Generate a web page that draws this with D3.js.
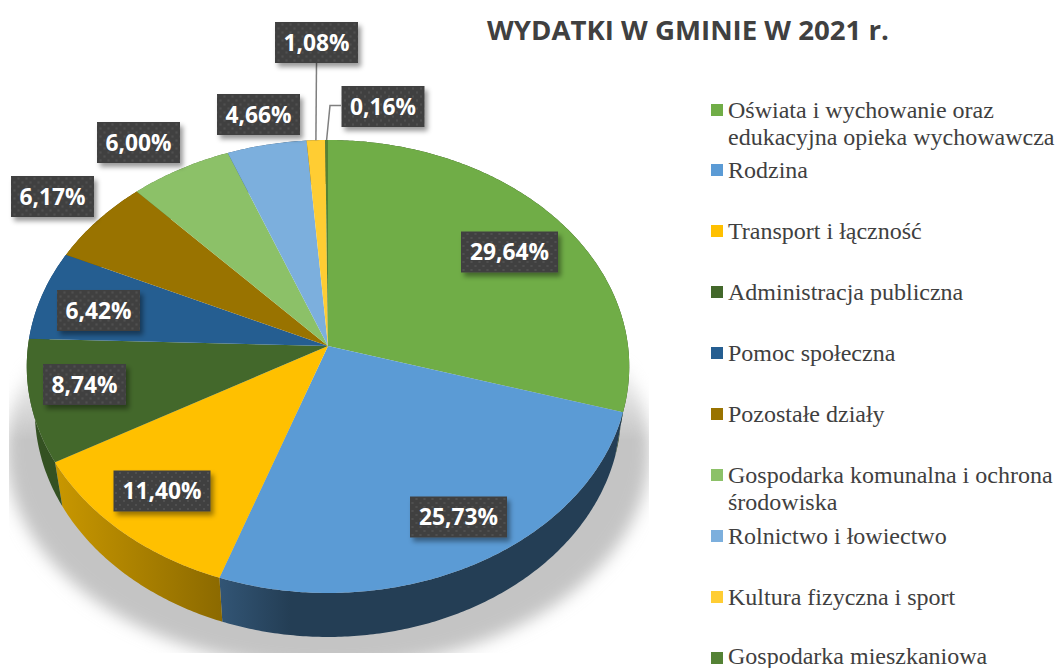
<!DOCTYPE html>
<html>
<head>
<meta charset="utf-8">
<script src="https://cdn.jsdelivr.net/npm/d3@7"></script>
<style>
  html, body { margin: 0; padding: 0; background: #fff; overflow: hidden; }
  svg { display: block; }
</style>
</head>
<body>
<div id="chart"></div>
<script>
const categories = [
  ["Oświata i wychowanie oraz", "edukacyjna opieka wychowawcza"],
  ["Rodzina"],
  ["Transport i łączność"],
  ["Administracja publiczna"],
  ["Pomoc społeczna"],
  ["Pozostałe działy"],
  ["Gospodarka komunalna i ochrona", "środowiska"],
  ["Rolnictwo i łowiectwo"],
  ["Kultura fizyczna i sport"],
  ["Gospodarka mieszkaniowa"]
];
const shares = [29.64, 25.73, 11.40, 8.74, 6.42, 6.17, 6.00, 4.66, 1.08, 0.16];
const colors = ["#70AD47", "#5B9BD5", "#FFC000", "#43682B", "#255E91", "#997300", "#8CC168", "#7CAFDD", "#FFCD33", "#548235"];

// label box centres, same order as shares
const labelCenters = [[509.5, 252], [458.5, 517], [162, 491], [84.5, 384.5], [98.5, 310.5], [52.5, 196.5], [138.5, 142.5], [258.5, 114.5], [316.5, 42.5], [383, 106.5]];
const legendY = [110, 170, 231, 292, 353, 414, 475, 536, 597, 656];

const w = 1055, h = 668;

// the pie is a circle seen in perspective, apex of the slices is not the ellipse centre
const cx = 328, cy = 346, k = 0.0905;
const rimTop = { a: 300, b: 224.6, dy: 0 };
const rimBottom = { a: 292, b: 224.6, dy: 44 };

function project(angle, r, rim) {
  const u = Math.sin(angle) * r, v = -Math.cos(angle) * r;
  const d = 1 - k * v;
  return [cx + rim.a * u / d, cy + rim.dy + rim.b * v / d];
}

function rimPoints(a0, a1, rim) {
  const n = Math.max(2, Math.ceil((a1 - a0) / 0.01));
  return d3.range(n + 1).map(i => project(a0 + (a1 - a0) * i / n, 1, rim));
}

const line = d3.line();

const svg = d3.select("#chart").append("svg")
  .attr("width", w)
  .attr("height", h)
  .style("font-family", "'Open Sans', sans-serif");

const defs = svg.append("defs");

defs.append("filter").attr("id", "blur")
  .attr("x", "-10%").attr("y", "-10%").attr("width", "120%").attr("height", "120%")
  .append("feGaussianBlur").attr("stdDeviation", 8);

const labelShadow = defs.append("filter").attr("id", "labelShadow")
  .attr("x", "-20%").attr("y", "-30%").attr("width", "150%").attr("height", "170%");
labelShadow.append("feDropShadow")
  .attr("dx", 3).attr("dy", 4).attr("stdDeviation", 2.5)
  .attr("flood-color", "#000").attr("flood-opacity", 0.4);

const dots = defs.append("pattern").attr("id", "dots")
  .attr("patternUnits", "userSpaceOnUse")
  .attr("width", 8).attr("height", 8);
dots.append("rect").attr("width", 8).attr("height", 8).attr("fill", "#404040");
[[2, 2], [6, 6]].forEach(p => {
  dots.append("circle").attr("cx", p[0]).attr("cy", p[1]).attr("r", 1).attr("fill", "#555555");
});

// shadow under the pie, fades out upwards and is cut off flat at the bottom
const fade = defs.append("linearGradient").attr("id", "fade")
  .attr("gradientUnits", "userSpaceOnUse")
  .attr("x1", 0).attr("x2", 0).attr("y1", 350).attr("y2", 440);
fade.append("stop").attr("offset", 0).attr("stop-color", "#000");
fade.append("stop").attr("offset", 1).attr("stop-color", "#fff");
defs.append("mask").attr("id", "fadeMask")
  .attr("maskUnits", "userSpaceOnUse")
  .attr("x", 0).attr("y", 0).attr("width", w).attr("height", h)
  .append("rect").attr("width", w).attr("height", h).attr("fill", "url(#fade)");
defs.append("clipPath").attr("id", "shadowClip")
  .append("rect").attr("x", 9).attr("y", 340).attr("width", 640).attr("height", 313);

svg.append("g").attr("clip-path", "url(#shadowClip)")
  .append("g").attr("mask", "url(#fadeMask)")
  .append("ellipse")
  .attr("cx", cx).attr("cy", 450).attr("rx", 322).attr("ry", 218)
  .attr("fill", "#c4c4c4")
  .attr("filter", "url(#blur)");

const arcs = d3.pie().value(d => d).sort(null)(shares);

// side wall gets darker towards the right
const shade = d3.scaleLinear().domain([60, 220, 290]).range([0.78, 0.55, 0.4]).clamp(true);

arcs.forEach((d, i) => {
  const base = d3.rgb(colors[i]);
  const grad = defs.append("linearGradient").attr("id", "side" + i)
    .attr("gradientUnits", "userSpaceOnUse")
    .attr("x1", 60).attr("x2", 290).attr("y1", 0).attr("y2", 0);
  shade.domain().forEach(x => {
    const s = shade(x);
    grad.append("stop")
      .attr("offset", (x - 60) / 230)
      .attr("stop-color", d3.rgb(base.r * s, base.g * s, base.b * s).formatHex());
  });
});

const sides = svg.append("g");
sides.selectAll("path")
  .data(arcs)
  .enter()
  .append("path")
  .attr("d", d => line(rimPoints(d.startAngle, d.endAngle, rimTop)
    .concat(rimPoints(d.startAngle, d.endAngle, rimBottom).reverse())) + "Z")
  .attr("fill", (d, i) => "url(#side" + i + ")");

const faces = svg.append("g");
faces.selectAll("path")
  .data(arcs)
  .enter()
  .append("path")
  .attr("d", d => line([[cx, cy]].concat(rimPoints(d.startAngle, d.endAngle, rimTop))) + "Z")
  .attr("fill", (d, i) => colors[i]);

// leader lines of the two small slices
const rimOf = i => project((arcs[i].startAngle + arcs[i].endAngle) / 2, 1, rimTop);
const leaders = svg.append("g").attr("fill", "none").attr("stroke", "#7f7f7f").attr("stroke-width", 1.5);
leaders.append("path").attr("d", line([[labelCenters[8][0], labelCenters[8][1] + 20], rimOf(8)]));
leaders.append("path").attr("d", line([[labelCenters[9][0] - 42, labelCenters[9][1] - 1], [330, labelCenters[9][1] - 1], rimOf(9)]));

const boxH = 41;
const boxW = d => (d >= 10 ? 97 : 83);
const fmt = d => d.toFixed(2).replace(".", ",") + "%";

const labels = svg.append("g").selectAll("g")
  .data(shares)
  .enter()
  .append("g")
  .attr("transform", (d, i) => "translate(" + labelCenters[i][0] + "," + labelCenters[i][1] + ")");

labels.append("rect")
  .attr("x", d => -boxW(d) / 2)
  .attr("y", -boxH / 2)
  .attr("width", boxW)
  .attr("height", boxH)
  .attr("fill", "url(#dots)")
  .attr("filter", "url(#labelShadow)");

labels.append("text")
  .attr("y", 8)
  .attr("text-anchor", "middle")
  .attr("fill", "#fff")
  .attr("font-weight", 700)
  .attr("font-size", 23)
  .attr("textLength", d => (d >= 10 ? 79 : 66))
  .attr("lengthAdjust", "spacingAndGlyphs")
  .text(fmt);

svg.append("text")
  .attr("x", 487)
  .attr("y", 40)
  .attr("fill", "#404040")
  .attr("font-weight", 700)
  .attr("font-size", 26)
  .attr("textLength", 402)
  .attr("lengthAdjust", "spacingAndGlyphs")
  .text("WYDATKI W GMINIE W 2021 r.");

const legend = svg.append("g").selectAll("g")
  .data(categories)
  .enter()
  .append("g")
  .attr("transform", (d, i) => "translate(711," + legendY[i] + ")");

legend.append("rect")
  .attr("y", (d, i) => (i === 9 ? -4 : -6))
  .attr("width", 12)
  .attr("height", 12)
  .attr("fill", (d, i) => colors[i]);

legend.each(function(d) {
  d3.select(this).selectAll("text")
    .data(d)
    .enter()
    .append("text")
    .attr("x", 17)
    .attr("y", (t, j) => 7.5 + j * 27.5)
    .attr("fill", "#404040")
    .style("font-family", "'Liberation Serif', serif")
    .attr("font-size", 24)
    .text(t => t);
});
</script>
</body>
</html>
